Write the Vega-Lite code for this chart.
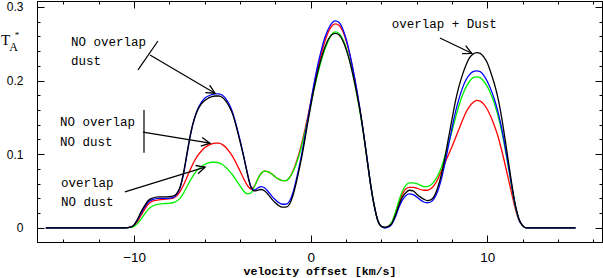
{
  "$schema": "https://vega.github.io/schema/vega-lite/v6.json",
  "width": 565,
  "height": 241,
  "autosize": {"type": "none"},
  "padding": {"left": 37, "top": 1, "right": 1, "bottom": 36},
  "background": "white",
  "config": {
    "view": {"stroke": null},
    "axis": {"domainColor": "black", "tickColor": "black", "labelColor": "black", "titleColor": "black", "grid": false, "domainWidth": 1, "tickWidth": 1, "labelOverlap": false, "labelFlush": false}
  },
  "datasets": {
    "curves": [
      {"x": -15, "bl": 0, "bu": 0, "r": 0, "g": 0},
      {"x": -11, "bl": 0, "bu": 0, "r": 0, "g": 0},
      {"x": -10.5, "bl": 0, "bu": 0, "r": 0, "g": 0},
      {"x": -10.2, "bl": 0.001, "bu": 0.001, "r": 0.001, "g": 0.0005},
      {"x": -10.0, "bl": 0.004, "bu": 0.004, "r": 0.003, "g": 0.002},
      {"x": -9.8, "bl": 0.012, "bu": 0.011, "r": 0.009, "g": 0.006},
      {"x": -9.6, "bl": 0.022, "bu": 0.020, "r": 0.017, "g": 0.012},
      {"x": -9.4, "bl": 0.030, "bu": 0.028, "r": 0.025, "g": 0.019},
      {"x": -9.2, "bl": 0.037, "bu": 0.035, "r": 0.032, "g": 0.025},
      {"x": -9.0, "bl": 0.040, "bu": 0.038, "r": 0.036, "g": 0.029},
      {"x": -8.6, "bl": 0.042, "bu": 0.040, "r": 0.038, "g": 0.032},
      {"x": -8.2, "bl": 0.042, "bu": 0.040, "r": 0.039, "g": 0.033},
      {"x": -7.8, "bl": 0.043, "bu": 0.041, "r": 0.040, "g": 0.034},
      {"x": -7.6, "bl": 0.046, "bu": 0.045, "r": 0.043, "g": 0.036},
      {"x": -7.4, "bl": 0.055, "bu": 0.054, "r": 0.049, "g": 0.040},
      {"x": -7.2, "bl": 0.075, "bu": 0.073, "r": 0.058, "g": 0.047},
      {"x": -7.0, "bl": 0.102, "bu": 0.100, "r": 0.069, "g": 0.056},
      {"x": -6.8, "bl": 0.128, "bu": 0.127, "r": 0.080, "g": 0.065},
      {"x": -6.6, "bl": 0.147, "bu": 0.147, "r": 0.090, "g": 0.073},
      {"x": -6.4, "bl": 0.160, "bu": 0.161, "r": 0.098, "g": 0.079},
      {"x": -6.2, "bl": 0.168, "bu": 0.170, "r": 0.104, "g": 0.083},
      {"x": -6.0, "bl": 0.173, "bu": 0.176, "r": 0.109, "g": 0.086},
      {"x": -5.8, "bl": 0.176, "bu": 0.179, "r": 0.112, "g": 0.088},
      {"x": -5.6, "bl": 0.178, "bu": 0.181, "r": 0.114, "g": 0.089},
      {"x": -5.4, "bl": 0.179, "bu": 0.182, "r": 0.115, "g": 0.089},
      {"x": -5.2, "bl": 0.179, "bu": 0.182, "r": 0.115, "g": 0.088},
      {"x": -5.0, "bl": 0.177, "bu": 0.180, "r": 0.113, "g": 0.086},
      {"x": -4.8, "bl": 0.172, "bu": 0.175, "r": 0.109, "g": 0.082},
      {"x": -4.6, "bl": 0.164, "bu": 0.167, "r": 0.103, "g": 0.077},
      {"x": -4.4, "bl": 0.153, "bu": 0.155, "r": 0.096, "g": 0.071},
      {"x": -4.2, "bl": 0.136, "bu": 0.138, "r": 0.087, "g": 0.064},
      {"x": -4.0, "bl": 0.117, "bu": 0.119, "r": 0.077, "g": 0.057},
      {"x": -3.8, "bl": 0.097, "bu": 0.098, "r": 0.067, "g": 0.050},
      {"x": -3.6, "bl": 0.075, "bu": 0.076, "r": 0.058, "g": 0.046},
      {"x": -3.4, "bl": 0.056, "bu": 0.057, "r": 0.053, "g": 0.047},
      {"x": -3.2, "bl": 0.050, "bu": 0.051, "r": 0.056, "g": 0.055},
      {"x": -3.0, "bl": 0.051, "bu": 0.054, "r": 0.066, "g": 0.066},
      {"x": -2.8, "bl": 0.052, "bu": 0.056, "r": 0.074, "g": 0.074},
      {"x": -2.6, "bl": 0.050, "bu": 0.054, "r": 0.077, "g": 0.077},
      {"x": -2.4, "bl": 0.045, "bu": 0.049, "r": 0.076, "g": 0.076},
      {"x": -2.2, "bl": 0.039, "bu": 0.043, "r": 0.073, "g": 0.073},
      {"x": -2.0, "bl": 0.034, "bu": 0.038, "r": 0.069, "g": 0.069},
      {"x": -1.8, "bl": 0.030, "bu": 0.034, "r": 0.066, "g": 0.066},
      {"x": -1.6, "bl": 0.028, "bu": 0.032, "r": 0.064, "g": 0.064},
      {"x": -1.4, "bl": 0.028, "bu": 0.032, "r": 0.064, "g": 0.064},
      {"x": -1.2, "bl": 0.032, "bu": 0.036, "r": 0.068, "g": 0.068},
      {"x": -1.0, "bl": 0.044, "bu": 0.048, "r": 0.077, "g": 0.076},
      {"x": -0.8, "bl": 0.063, "bu": 0.067, "r": 0.090, "g": 0.088},
      {"x": -0.6, "bl": 0.085, "bu": 0.089, "r": 0.106, "g": 0.103},
      {"x": -0.4, "bl": 0.110, "bu": 0.114, "r": 0.125, "g": 0.122},
      {"x": -0.2, "bl": 0.138, "bu": 0.142, "r": 0.147, "g": 0.143},
      {"x": 0.0, "bl": 0.165, "bu": 0.170, "r": 0.170, "g": 0.166},
      {"x": 0.2, "bl": 0.190, "bu": 0.197, "r": 0.194, "g": 0.189},
      {"x": 0.4, "bl": 0.212, "bu": 0.221, "r": 0.216, "g": 0.209},
      {"x": 0.6, "bl": 0.230, "bu": 0.241, "r": 0.236, "g": 0.227},
      {"x": 0.8, "bl": 0.245, "bu": 0.258, "r": 0.253, "g": 0.242},
      {"x": 1.0, "bl": 0.256, "bu": 0.270, "r": 0.266, "g": 0.254},
      {"x": 1.2, "bl": 0.262, "bu": 0.278, "r": 0.274, "g": 0.263},
      {"x": 1.4, "bl": 0.264, "bu": 0.281, "r": 0.277, "g": 0.266},
      {"x": 1.6, "bl": 0.262, "bu": 0.279, "r": 0.275, "g": 0.264},
      {"x": 1.8, "bl": 0.255, "bu": 0.271, "r": 0.268, "g": 0.257},
      {"x": 2.0, "bl": 0.243, "bu": 0.257, "r": 0.255, "g": 0.245},
      {"x": 2.2, "bl": 0.227, "bu": 0.238, "r": 0.237, "g": 0.228},
      {"x": 2.4, "bl": 0.207, "bu": 0.215, "r": 0.214, "g": 0.207},
      {"x": 2.6, "bl": 0.184, "bu": 0.189, "r": 0.188, "g": 0.183},
      {"x": 2.8, "bl": 0.158, "bu": 0.160, "r": 0.159, "g": 0.156},
      {"x": 3.0, "bl": 0.127, "bu": 0.128, "r": 0.127, "g": 0.126},
      {"x": 3.2, "bl": 0.092, "bu": 0.093, "r": 0.092, "g": 0.092},
      {"x": 3.4, "bl": 0.058, "bu": 0.058, "r": 0.058, "g": 0.058},
      {"x": 3.6, "bl": 0.030, "bu": 0.030, "r": 0.030, "g": 0.030},
      {"x": 3.8, "bl": 0.010, "bu": 0.010, "r": 0.010, "g": 0.010},
      {"x": 4.0, "bl": 0.002, "bu": 0.002, "r": 0.002, "g": 0.002},
      {"x": 4.2, "bl": 0.001, "bu": 0.0, "r": 0.0, "g": 0.0},
      {"x": 4.4, "bl": 0.002, "bu": 0.001, "r": 0.002, "g": 0.002},
      {"x": 4.6, "bl": 0.006, "bu": 0.005, "r": 0.007, "g": 0.008},
      {"x": 4.8, "bl": 0.017, "bu": 0.015, "r": 0.019, "g": 0.021},
      {"x": 5.0, "bl": 0.031, "bu": 0.028, "r": 0.034, "g": 0.037},
      {"x": 5.2, "bl": 0.042, "bu": 0.038, "r": 0.046, "g": 0.050},
      {"x": 5.4, "bl": 0.048, "bu": 0.044, "r": 0.053, "g": 0.058},
      {"x": 5.6, "bl": 0.051, "bu": 0.046, "r": 0.055, "g": 0.061},
      {"x": 5.8, "bl": 0.050, "bu": 0.045, "r": 0.055, "g": 0.061},
      {"x": 6.0, "bl": 0.046, "bu": 0.042, "r": 0.054, "g": 0.060},
      {"x": 6.2, "bl": 0.042, "bu": 0.038, "r": 0.052, "g": 0.058},
      {"x": 6.4, "bl": 0.039, "bu": 0.035, "r": 0.051, "g": 0.056},
      {"x": 6.6, "bl": 0.037, "bu": 0.034, "r": 0.051, "g": 0.056},
      {"x": 6.8, "bl": 0.038, "bu": 0.035, "r": 0.053, "g": 0.058},
      {"x": 7.0, "bl": 0.043, "bu": 0.040, "r": 0.058, "g": 0.063},
      {"x": 7.2, "bl": 0.055, "bu": 0.050, "r": 0.066, "g": 0.071},
      {"x": 7.4, "bl": 0.072, "bu": 0.066, "r": 0.077, "g": 0.082},
      {"x": 7.6, "bl": 0.095, "bu": 0.087, "r": 0.088, "g": 0.097},
      {"x": 7.8, "bl": 0.121, "bu": 0.111, "r": 0.099, "g": 0.114},
      {"x": 8.0, "bl": 0.147, "bu": 0.135, "r": 0.110, "g": 0.131},
      {"x": 8.2, "bl": 0.172, "bu": 0.157, "r": 0.122, "g": 0.149},
      {"x": 8.4, "bl": 0.192, "bu": 0.175, "r": 0.134, "g": 0.166},
      {"x": 8.6, "bl": 0.208, "bu": 0.190, "r": 0.146, "g": 0.180},
      {"x": 8.8, "bl": 0.221, "bu": 0.201, "r": 0.157, "g": 0.191},
      {"x": 9.0, "bl": 0.231, "bu": 0.208, "r": 0.165, "g": 0.199},
      {"x": 9.2, "bl": 0.236, "bu": 0.212, "r": 0.170, "g": 0.204},
      {"x": 9.4, "bl": 0.238, "bu": 0.213, "r": 0.173, "g": 0.205},
      {"x": 9.6, "bl": 0.237, "bu": 0.212, "r": 0.172, "g": 0.204},
      {"x": 9.8, "bl": 0.232, "bu": 0.207, "r": 0.168, "g": 0.199},
      {"x": 10.0, "bl": 0.224, "bu": 0.199, "r": 0.161, "g": 0.192},
      {"x": 10.2, "bl": 0.211, "bu": 0.188, "r": 0.151, "g": 0.182},
      {"x": 10.4, "bl": 0.196, "bu": 0.175, "r": 0.139, "g": 0.169},
      {"x": 10.6, "bl": 0.177, "bu": 0.158, "r": 0.125, "g": 0.153},
      {"x": 10.8, "bl": 0.152, "bu": 0.137, "r": 0.107, "g": 0.133},
      {"x": 11.0, "bl": 0.122, "bu": 0.112, "r": 0.087, "g": 0.109},
      {"x": 11.2, "bl": 0.090, "bu": 0.084, "r": 0.066, "g": 0.082},
      {"x": 11.4, "bl": 0.058, "bu": 0.055, "r": 0.045, "g": 0.054},
      {"x": 11.6, "bl": 0.030, "bu": 0.029, "r": 0.025, "g": 0.028},
      {"x": 11.8, "bl": 0.012, "bu": 0.011, "r": 0.010, "g": 0.011},
      {"x": 12.0, "bl": 0.003, "bu": 0.003, "r": 0.003, "g": 0.003},
      {"x": 12.2, "bl": 0, "bu": 0, "r": 0, "g": 0},
      {"x": 12.5, "bl": 0, "bu": 0, "r": 0, "g": 0},
      {"x": 15, "bl": 0, "bu": 0, "r": 0, "g": 0}
    ],
    "labels": [
      {"x": -13.57, "y": 0.2524, "t": "NO overlap"},
      {"x": -13.57, "y": 0.2266, "t": "dust"},
      {"x": -14.2, "y": 0.1438, "t": "NO overlap"},
      {"x": -14.2, "y": 0.1167, "t": "NO dust"},
      {"x": -14.14, "y": 0.061, "t": "overlap"},
      {"x": -14.14, "y": 0.0353, "t": "NO dust"},
      {"x": 4.59, "y": 0.2768, "t": "overlap + Dust"}
    ],
    "segs": [
      {"x": -9.10, "y": 0.2347, "x2": -5.42, "y2": 0.1828},
      {"x": -9.50, "y": 0.1300, "x2": -5.70, "y2": 0.1149},
      {"x": -10.52, "y": 0.0488, "x2": -5.98, "y2": 0.0824},
      {"x": 7.32, "y": 0.2578, "x2": 9.12, "y2": 0.2370},
      {"x": -9.78, "y": 0.2144, "x2": -8.65, "y2": 0.2537},
      {"x": -9.44, "y": 0.1601, "x2": -9.44, "y2": 0.1018}
    ],
    "heads": [
      {"x": -5.42, "y": 0.1828, "a": 30},
      {"x": -5.70, "y": 0.1149, "a": 9},
      {"x": -5.98, "y": 0.0824, "a": -17},
      {"x": 9.12, "y": 0.2370, "a": 25}
    ],
    "ylab": [
      {"x": -17.28, "y": 0.2545, "t": "T", "k": "T"},
      {"x": -16.83, "y": 0.2455, "t": "A", "k": "A"},
      {"x": -16.63, "y": 0.2625, "t": "*", "k": "S"}
    ]
  },
  "resolve": {"axis": {"x": "independent", "y": "independent"}},
  "layer": [
    {
      "data": {"name": "curves"},
      "mark": {"type": "line", "color": "#ff0000", "strokeWidth": 1.3, "interpolate": "monotone"},
      "encoding": {
        "x": {"field": "x", "type": "quantitative", "scale": {"domain": [-15.5, 16.5], "nice": false, "zero": false},
          "axis": {"orient": "bottom", "values": [-10, 0, 10], "tickSize": -7, "labelPadding": 15, "labelFont": "Liberation Sans", "labelFontSize": 13.5, "title": "velocity offset [km/s]", "titleFont": "Liberation Mono", "titleFontSize": 11.6, "titleFontWeight": "bold", "titleBaseline": "alphabetic", "titleY": 32.5}},
        "y": {"field": "r", "type": "quantitative", "scale": {"domain": [-0.0193, 0.308], "nice": false, "zero": false},
          "axis": {"orient": "left", "values": [0, 0.1, 0.2, 0.3], "format": ".1~f", "tickSize": -7, "labelPadding": 21, "labelFont": "Liberation Sans", "labelFontSize": 12, "title": null}}
      }
    },
    {
      "data": {"name": "curves"},
      "mark": {"type": "line", "color": "#00f000", "strokeWidth": 1.3, "interpolate": "monotone"},
      "encoding": {
        "x": {"field": "x", "type": "quantitative", "scale": {"domain": [-15.5, 16.5], "nice": false, "zero": false},
          "axis": {"orient": "bottom", "values": [-14, -12, -8, -6, -4, -2, 2, 4, 6, 8, 12, 14, 16], "tickSize": -3, "labels": false, "title": null}},
        "y": {"field": "g", "type": "quantitative", "scale": {"domain": [-0.0193, 0.308], "nice": false, "zero": false},
          "axis": {"orient": "left", "values": [0.02, 0.04, 0.06, 0.08, 0.12, 0.14, 0.16, 0.18, 0.22, 0.24, 0.26, 0.28], "tickSize": -3, "labels": false, "title": null}}
      }
    },
    {
      "data": {"name": "curves"},
      "mark": {"type": "line", "color": "#0000ff", "strokeWidth": 1.3, "interpolate": "monotone"},
      "encoding": {
        "x": {"field": "x", "type": "quantitative", "scale": {"domain": [-15.5, 16.5], "nice": false, "zero": false},
          "axis": {"orient": "top", "values": [-10, 0, 10], "tickSize": -7, "labels": false, "title": null}},
        "y": {"field": "bu", "type": "quantitative", "scale": {"domain": [-0.0193, 0.308], "nice": false, "zero": false},
          "axis": {"orient": "right", "values": [0, 0.1, 0.2, 0.3], "tickSize": -7, "labels": false, "title": null}}
      }
    },
    {
      "data": {"name": "curves"},
      "mark": {"type": "line", "color": "#000000", "strokeWidth": 1.3, "interpolate": "monotone"},
      "encoding": {
        "x": {"field": "x", "type": "quantitative", "scale": {"domain": [-15.5, 16.5], "nice": false, "zero": false},
          "axis": {"orient": "top", "values": [-14, -12, -8, -6, -4, -2, 2, 4, 6, 8, 12, 14, 16], "tickSize": -3, "labels": false, "title": null}},
        "y": {"field": "bl", "type": "quantitative", "scale": {"domain": [-0.0193, 0.308], "nice": false, "zero": false},
          "axis": {"orient": "right", "values": [0.02, 0.04, 0.06, 0.08, 0.12, 0.14, 0.16, 0.18, 0.22, 0.24, 0.26, 0.28], "tickSize": -3, "labels": false, "title": null}}
      }
    },
    {
      "data": {"name": "segs"},
      "mark": {"type": "rule", "color": "black", "strokeWidth": 1.2},
      "encoding": {
        "x": {"field": "x", "type": "quantitative", "scale": {"domain": [-15.5, 16.5], "nice": false, "zero": false}, "axis": null},
        "y": {"field": "y", "type": "quantitative", "scale": {"domain": [-0.0193, 0.308], "nice": false, "zero": false}, "axis": null},
        "x2": {"field": "x2"},
        "y2": {"field": "y2"}
      }
    },
    {
      "data": {"name": "heads"},
      "mark": {"type": "point", "shape": "M-1,-0.5L0,0L-1,0.5", "filled": false, "stroke": "black", "strokeWidth": 1.3, "size": 300, "opacity": 1},
      "encoding": {
        "x": {"field": "x", "type": "quantitative", "scale": {"domain": [-15.5, 16.5], "nice": false, "zero": false}, "axis": null},
        "y": {"field": "y", "type": "quantitative", "scale": {"domain": [-0.0193, 0.308], "nice": false, "zero": false}, "axis": null},
        "angle": {"field": "a", "type": "quantitative", "scale": null}
      }
    },
    {
      "data": {"name": "labels"},
      "mark": {"type": "text", "align": "left", "baseline": "middle", "font": "Liberation Mono", "fontSize": 12.5, "color": "black"},
      "encoding": {
        "x": {"field": "x", "type": "quantitative", "scale": {"domain": [-15.5, 16.5], "nice": false, "zero": false}, "axis": null},
        "y": {"field": "y", "type": "quantitative", "scale": {"domain": [-0.0193, 0.308], "nice": false, "zero": false}, "axis": null},
        "text": {"field": "t"}
      }
    },
    {
      "data": {"name": "ylab"},
      "mark": {"type": "text", "align": "center", "baseline": "middle", "font": "Liberation Serif", "color": "black"},
      "encoding": {
        "x": {"field": "x", "type": "quantitative", "scale": {"domain": [-15.5, 16.5], "nice": false, "zero": false}, "axis": null},
        "y": {"field": "y", "type": "quantitative", "scale": {"domain": [-0.0193, 0.308], "nice": false, "zero": false}, "axis": null},
        "text": {"field": "t"},
        "size": {"field": "k", "type": "nominal", "scale": {"domain": ["T", "A", "S"], "range": [15, 9, 12]}, "legend": null}
      }
    }
  ]
}
